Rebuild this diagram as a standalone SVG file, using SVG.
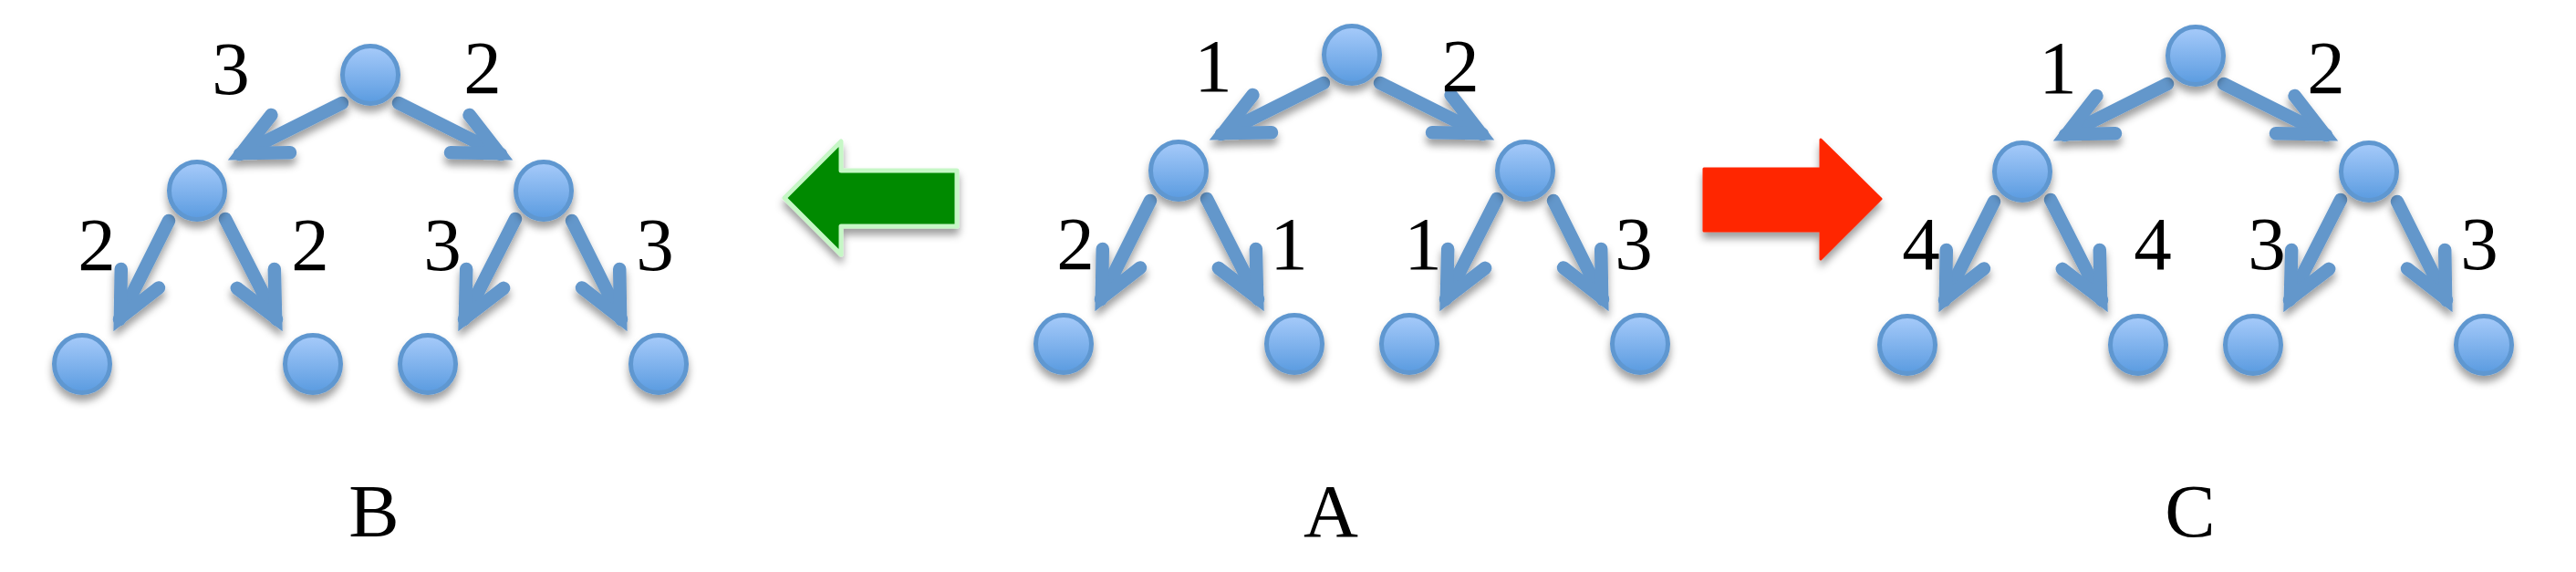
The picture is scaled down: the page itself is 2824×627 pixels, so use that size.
<svg xmlns="http://www.w3.org/2000/svg" width="2824" height="627" viewBox="0 0 2824 627">
<defs>
<linearGradient id="nodeFill" x1="0" y1="0" x2="0" y2="1">
<stop offset="0" stop-color="#a7cbfa"/>
<stop offset="1" stop-color="#5a9be0"/>
</linearGradient>
<filter id="shadow" x="-30%" y="-30%" width="160%" height="170%">
<feDropShadow dx="0" dy="7" stdDeviation="4" flood-color="#000" flood-opacity="0.38"/>
</filter>
<marker id="head" markerUnits="userSpaceOnUse" orient="auto" markerWidth="120" markerHeight="120" viewBox="-80 -60 120 120" refX="0" refY="0" overflow="visible">
<path d="M-50,-23 L-2,0 L-50,23" fill="none" stroke="#6497cb" stroke-width="14.5" stroke-linecap="round" stroke-linejoin="miter"/>
</marker>
<g id="tree">
<g class="edges" filter="url(#shadow)">
<path class="edge" d="M-31,31 L-143,87"/>
<path class="edge" d="M31,31 L143,87"/>
<path class="edge" d="M-221,160 L-275,268"/>
<path class="edge" d="M-159,158 L-103,268"/>
<path class="edge" d="M159,158 L103,268"/>
<path class="edge" d="M221,160 L275,268"/>
</g>
<g class="nodes" filter="url(#shadow)">
<ellipse class="node" cx="0" cy="0" rx="30.5" ry="31.5"/>
<ellipse class="node" cx="-190" cy="127" rx="30.5" ry="31.5"/>
<ellipse class="node" cx="190" cy="127" rx="30.5" ry="31.5"/>
<ellipse class="node" cx="-316" cy="317" rx="30.5" ry="31.5"/>
<ellipse class="node" cx="-63" cy="317" rx="30.5" ry="31.5"/>
<ellipse class="node" cx="63" cy="317" rx="30.5" ry="31.5"/>
<ellipse class="node" cx="316" cy="317" rx="30.5" ry="31.5"/>
</g>
</g>
</defs>
<style>
.edge{fill:none;stroke:#6497cb;stroke-width:14.5;stroke-linecap:round;marker-end:url(#head);}
.node{fill:url(#nodeFill);stroke:#5f97d0;stroke-width:5;}
.lbl{font-family:"Liberation Serif","Times New Roman",serif;font-size:83px;fill:#000;text-anchor:middle;}
.title{font-family:"Liberation Serif","Times New Roman",serif;font-size:83px;fill:#000;text-anchor:middle;}
</style>
<rect width="2824" height="627" fill="#fff"/>

<g id="connectors">
<g id="treeB-edges" transform="translate(406,82)">
<use href="#tree"/>
</g>
<g id="treeA-edges" transform="translate(1482,60)">
<use href="#tree"/>
</g>
<g id="treeC-edges" transform="translate(2407,61)">
<use href="#tree"/>
</g>
<polygon id="greenArrow" points="860,217 922,155 922,187 1049,187 1049,248 922,248 922,279" fill="#008a00" stroke="#c6f7c6" stroke-width="5" stroke-linejoin="round" filter="url(#shadow)"/>
<polygon id="redArrow" points="1868,185 1996,185 1996,153 2062,218 1996,284 1996,253 1868,253" fill="#ff2600" stroke="#ff2600" stroke-width="3" stroke-linejoin="round" filter="url(#shadow)"/>
</g>

<g id="treeB-labels">
<text class="lbl" x="253" y="103">3</text>
<text class="lbl" x="529" y="102">2</text>
<text class="lbl" x="106" y="296">2</text>
<text class="lbl" x="340" y="296">2</text>
<text class="lbl" x="485" y="296">3</text>
<text class="lbl" x="718" y="296">3</text>
</g>
<g id="treeA-labels">
<text class="lbl" x="1330" y="100">1</text>
<text class="lbl" x="1601" y="100">2</text>
<text class="lbl" x="1179" y="295">2</text>
<text class="lbl" x="1413" y="295">1</text>
<text class="lbl" x="1560" y="295">1</text>
<text class="lbl" x="1791" y="295">3</text>
</g>
<g id="treeC-labels">
<text class="lbl" x="2256" y="102">1</text>
<text class="lbl" x="2550" y="102">2</text>
<text class="lbl" x="2106" y="295">4</text>
<text class="lbl" x="2360" y="295">4</text>
<text class="lbl" x="2485" y="295">3</text>
<text class="lbl" x="2718" y="295">3</text>
</g>
<g id="titles">
<text class="title" x="410" y="588">B</text>
<text class="title" x="1459" y="588">A</text>
<text class="title" x="2401" y="588">C</text>
</g>
</svg>
